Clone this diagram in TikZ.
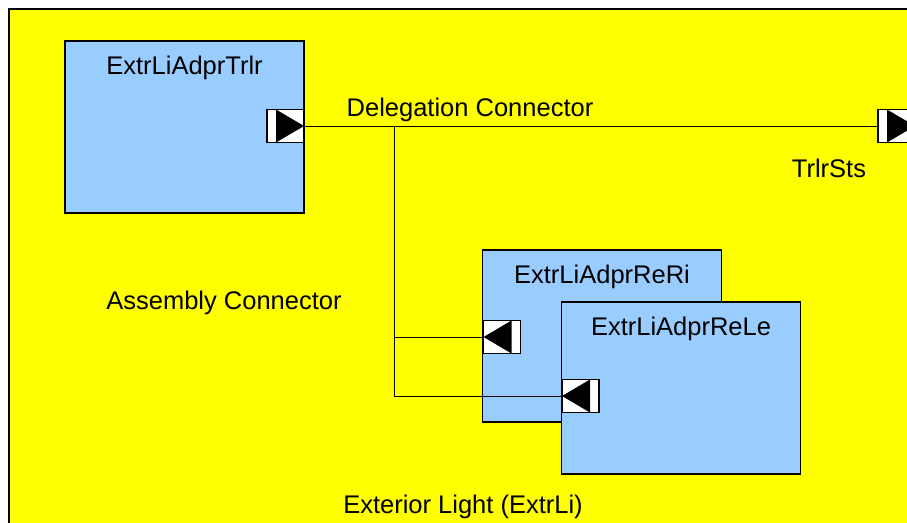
\documentclass[tikz,border=0pt]{standalone}
\usepackage{fontspec}
\setmainfont{Liberation Sans}
\usetikzlibrary{calc}
\usetikzlibrary{positioning}
\definecolor{swcblue}{HTML}{99CCFF}
\definecolor{compyellow}{HTML}{FFFF00}
\tikzset{
  swc/.style={draw, fill=swcblue, line width=1.6pt, minimum width=239pt, minimum height=172pt, inner sep=0pt},
  title/.style={inner sep=0pt, font=\fontsize{25.5}{30}\selectfont},
  lbl/.style={inner sep=0pt, font=\fontsize{25.5}{30}\selectfont},
  portout/.style={draw, fill=white, line width=1.6pt, minimum width=37pt, minimum height=33pt, inner sep=0pt,
    path picture={\fill [black] ($(path picture bounding box.north west)+(9pt,0)$) -- ($(path picture bounding box.south west)+(9pt,0)$) -- (path picture bounding box.east) -- cycle;}},
  portin/.style={draw, fill=white, line width=1.6pt, minimum width=37pt, minimum height=33pt, inner sep=0pt,
    path picture={\fill [black] ($(path picture bounding box.north east)+(-9pt,0)$) -- ($(path picture bounding box.south east)+(-9pt,0)$) -- (path picture bounding box.west) -- cycle;}}
}
\begin{document}
\begin{tikzpicture}[x=1pt,y=-1pt]
	\useasboundingbox (0,0) rectangle (907,522);
	\clip (0,0) rectangle (907,522);
	% composition
	\draw [fill=compyellow, line width=2.4pt] (9,9) rectangle (940,560);
	% components
	\node [swc] (trlr) at (184.5,127) {};
	\node [swc] (reri) at (602,336) {};
	\node [swc] (rele) at (681,388) {};
	\node [title, below=16pt of trlr.north] {ExtrLiAdprTrlr};
	\node [title, below=16pt of reri.north] {ExtrLiAdprReRi};
	\node [title, below=16pt of rele.north] {ExtrLiAdprReLe};
	% ports
	\node [portout] (ptrlr) at (285.5,126) {};
	\node [portout] (psts) at (896.5,126) {};
	\node [portin] (preri) at (502,337) {};
	\node [portin] (prele) at (580.5,396) {};
	% connectors
	\coordinate (split) at (394,126);
	\draw [line width=0.8pt] (ptrlr.east) -- (psts.west);
	\draw [line width=0.8pt] (split) |- (prele.west);
	\draw [line width=0.8pt] (split |- preri.west) -- (preri.west);
	% labels
	\node [lbl] at (470,110) {Delegation Connector};
	\node [lbl] at (829,168) {TrlrSts};
	\node [lbl] at (224,303) {Assembly Connector};
	\node [lbl] at (463,507) {Exterior Light (ExtrLi)};
\end{tikzpicture}
\end{document}
